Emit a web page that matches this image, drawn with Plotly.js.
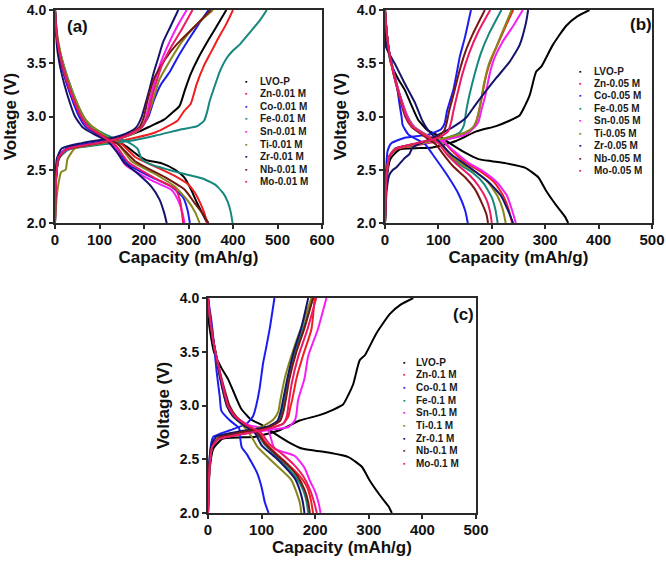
<!DOCTYPE html>
<html><head><meta charset="utf-8">
<script src="https://cdn.plot.ly/plotly-3.0.1.min.js"></script>
<style>html,body{margin:0;padding:0;background:#fff}#chart{width:666px;height:561px}</style>
</head><body><div id="chart"></div>
<script>
// ---------- series names & colours ----------
const seriesKeys = ["LVO","Zn","Co","Fe","Sn","Ti","Zr","Nb","Mo"];
const labelsA = ["LVO-P","Zn-0.01 M","Co-0.01 M","Fe-0.01 M","Sn-0.01 M","Ti-0.01 M","Zr-0.01 M","Nb-0.01 M","Mo-0.01 M"];
const labelsB = ["LVO-P","Zn-0.05 M","Co-0.05 M","Fe-0.05 M","Sn-0.05 M","Ti-0.05 M","Zr-0.05 M","Nb-0.05 M","Mo-0.05 M"];
const labelsC = ["LVO-P","Zn-0.1 M","Co-0.1 M","Fe-0.1 M","Sn-0.1 M","Ti-0.1 M","Zr-0.1 M","Nb-0.1 M","Mo-0.1 M"];
const colors = ["#000000","#f01e1e","#1c1cf0","#16877e","#f51ef5","#86861a","#15146b","#751812","#ec1966"];
const panelTags = ["(a)","(b)","(c)"];
const xTicksA = [0,100,200,300,400,500,600];
const xTicksBC = [0,100,200,300,400,500];
const yTicks = [2.0,2.5,3.0,3.5,4.0];

// ---------- panel (a): [capacity mAh/g, voltage V] ----------
const aChg_LVO = [[0,2.0],[2,2.4],[8,2.6],[20,2.68],[40,2.71],[100,2.75],[150,2.8],[190,2.86],[215,2.91],[245,2.97],[262,3.03],[280,3.1],[292,3.25],[305,3.4],[322,3.55],[345,3.72],[365,3.86],[385,4.0]];
const aChg_Zn  = [[0,2.0],[2,2.4],[8,2.6],[20,2.67],[50,2.71],[120,2.75],[180,2.8],[225,2.85],[250,2.9],[275,2.96],[290,3.05],[305,3.12],[318,3.3],[335,3.48],[350,3.6],[365,3.72],[385,3.87],[400,4.0]];
const aChg_Co  = [[0,2.0],[2,2.45],[8,2.63],[30,2.71],[110,2.77],[170,2.84],[195,2.9],[210,3.0],[222,3.15],[238,3.3],[258,3.42],[275,3.55],[300,3.72],[325,3.88],[345,4.0]];
const aChg_Fe  = [[0,2.0],[2,2.4],[8,2.6],[30,2.69],[75,2.72],[165,2.77],[225,2.82],[285,2.88],[320,2.91],[335,2.96],[341,3.03],[348,3.15],[356,3.25],[370,3.42],[386,3.55],[400,3.62],[416,3.68],[440,3.8],[460,3.9],[476,4.0]];
const aChg_Sn  = [[0,2.0],[2,2.4],[6,2.6],[20,2.68],[100,2.75],[150,2.8],[180,2.85],[195,2.9],[205,3.0],[213,3.15],[222,3.3],[237,3.5],[255,3.68],[275,3.85],[296,4.0]];
const aChg_Ti  = [[0,2.0],[4,2.25],[10,2.42],[14,2.48],[24,2.5],[28,2.6],[45,2.7],[120,2.76],[175,2.84],[195,2.9],[208,3.0],[220,3.15],[235,3.35],[255,3.5],[285,3.7],[315,3.85],[355,4.0]];
const aChg_Zr  = [[0,2.0],[1,2.4],[4,2.6],[15,2.7],[60,2.75],[130,2.8],[165,2.85],[183,2.9],[195,3.0],[202,3.1],[212,3.25],[221,3.4],[232,3.55],[243,3.7],[260,3.85],[277,4.0]];
const aChg_Nb  = [[0,2.0],[2,2.4],[8,2.6],[25,2.69],[110,2.76],[165,2.83],[190,2.9],[200,3.0],[208,3.15],[222,3.35],[236,3.46],[258,3.6],[281,3.71],[315,3.85],[350,4.0]];
const aChg_Mo  = [[0,2.0],[3,2.45],[8,2.62],[30,2.7],[110,2.76],[150,2.8],[180,2.86],[195,2.9],[208,3.0],[216,3.15],[226,3.3],[242,3.5],[262,3.66],[285,3.82],[309,4.0]];

const aDis_LVO = [[0,4.0],[3,3.8],[10,3.6],[22,3.4],[38,3.2],[58,3.0],[75,2.9],[100,2.84],[130,2.79],[160,2.72],[185,2.64],[205,2.59],[240,2.56],[270,2.5],[290,2.43],[305,2.32],[318,2.2],[330,2.1],[342,2.0]];
const aDis_Zn  = [[0,4.0],[3,3.8],[9,3.6],[20,3.4],[36,3.2],[56,3.0],[72,2.9],[100,2.83],[150,2.74],[180,2.62],[225,2.53],[270,2.44],[300,2.36],[315,2.28],[325,2.2],[335,2.1],[342,2.0]];
const aDis_Co  = [[0,4.0],[3,3.8],[9,3.6],[20,3.4],[35,3.2],[54,3.0],[70,2.9],[100,2.82],[135,2.71],[165,2.55],[217,2.43],[262,2.34],[288,2.24],[298,2.12],[303,2.0]];
const aDis_Fe  = [[0,4.0],[5,3.75],[12,3.6],[22,3.45],[38,3.25],[58,3.05],[75,2.93],[100,2.86],[130,2.8],[160,2.77],[185,2.7],[195,2.6],[215,2.55],[255,2.5],[300,2.45],[330,2.42],[360,2.36],[378,2.28],[388,2.2],[395,2.1],[399,2.0]];
const aDis_Sn  = [[0,4.0],[3,3.8],[10,3.6],[22,3.4],[38,3.2],[58,3.0],[74,2.9],[100,2.83],[135,2.71],[157,2.55],[217,2.4],[262,2.31],[277,2.21],[286,2.1],[291,2.0]];
const aDis_Ti  = [[0,4.0],[4,3.8],[12,3.6],[25,3.4],[42,3.2],[64,3.0],[80,2.92],[105,2.84],[142,2.74],[172,2.58],[225,2.46],[270,2.34],[300,2.2],[315,2.1],[325,2.0]];
const aDis_Zr  = [[0,4.0],[2,3.8],[6,3.6],[15,3.4],[28,3.2],[45,3.0],[62,2.9],[85,2.84],[120,2.76],[140,2.66],[155,2.57],[187,2.46],[217,2.34],[235,2.22],[245,2.1],[251,2.0]];
const aDis_Nb  = [[0,4.0],[3,3.8],[10,3.6],[22,3.4],[38,3.2],[58,3.0],[76,2.9],[105,2.82],[142,2.74],[180,2.58],[247,2.43],[292,2.31],[315,2.18],[330,2.1],[345,2.0]];
const aDis_Mo  = [[0,4.0],[3,3.8],[10,3.6],[22,3.4],[38,3.2],[59,3.0],[76,2.9],[102,2.83],[138,2.72],[165,2.57],[225,2.42],[270,2.32],[281,2.21],[285,2.1],[288,2.0]];

// ---------- pristine LVO-P (panels b and c) ----------
const bcChg_LVO = [[0,2.0],[3,2.4],[10,2.6],[27,2.69],[89,2.71],[133,2.77],[171,2.86],[208,2.91],[233,2.96],[252,3.01],[262,3.1],[271,3.2],[283,3.42],[293,3.47],[314,3.67],[339,3.85],[360,3.94],[383,4.0]];
const bcDis_LVO = [[0,4.0],[2,3.76],[11,3.5],[25,3.35],[37,3.25],[50,3.1],[62,2.97],[80,2.87],[100,2.82],[121,2.75],[150,2.66],[175,2.6],[200,2.58],[227,2.56],[262,2.52],[287,2.43],[302,2.3],[320,2.17],[337,2.06],[343,2.0]];

// ---------- panel (b) ----------
const bChg_Zn = [[0,2.0],[3,2.45],[8,2.62],[20,2.69],[60,2.73],[110,2.78],[150,2.83],[163,2.88],[170,2.94],[176,3.05],[182,3.2],[190,3.4],[200,3.55],[213,3.7],[228,3.87],[240,4.0]];
const bChg_Co = [[0,2.0],[2,2.5],[5,2.68],[12,2.75],[37,2.8],[81,2.83],[105,2.88],[112,2.94],[116,3.05],[122,3.15],[128,3.25],[134,3.4],[140,3.56],[150,3.75],[161,4.0]];
const bChg_Fe = [[0,2.0],[3,2.45],[8,2.62],[20,2.7],[60,2.74],[110,2.79],[140,2.85],[148,2.92],[152,3.05],[158,3.2],[168,3.4],[180,3.6],[195,3.78],[218,4.0]];
const bChg_Sn = [[0,2.0],[3,2.45],[8,2.63],[20,2.7],[60,2.74],[110,2.78],[150,2.83],[168,2.9],[175,2.95],[180,3.05],[188,3.2],[196,3.4],[205,3.55],[220,3.7],[240,3.85],[258,4.0]];
const bChg_Ti = [[0,2.0],[3,2.45],[8,2.62],[20,2.7],[60,2.74],[115,2.8],[150,2.85],[165,2.9],[172,2.97],[178,3.1],[185,3.3],[195,3.5],[208,3.65],[222,3.82],[237,4.0]];
const bChg_Zr = [[0,2.0],[3,2.3],[8,2.45],[15,2.5],[21,2.52],[35,2.6],[46,2.65],[52,2.71],[89,2.8],[127,2.9],[152,2.99],[168,3.1],[183,3.2],[208,3.36],[233,3.51],[252,3.67],[264,3.88],[268,4.0]];
const bChg_Nb = [[0,2.0],[3,2.45],[8,2.62],[20,2.7],[60,2.75],[95,2.8],[110,2.86],[115,2.93],[120,3.05],[128,3.2],[138,3.4],[150,3.6],[165,3.78],[187,4.0]];
const bChg_Mo = [[0,2.0],[3,2.45],[8,2.62],[20,2.7],[60,2.75],[100,2.8],[118,2.86],[124,2.95],[128,3.05],[135,3.2],[145,3.4],[158,3.6],[175,3.8],[197,4.0]];

const bDis_Zn = [[0,4.0],[3,3.8],[8,3.6],[17,3.4],[28,3.2],[42,3.0],[55,2.9],[80,2.82],[110,2.76],[125,2.68],[150,2.57],[180,2.48],[205,2.38],[222,2.25],[232,2.12],[238,2.0]];
const bDis_Co = [[0,4.0],[3,3.8],[8,3.6],[15,3.45],[22,3.3],[27,3.12],[31,3.0],[33,2.92],[44,2.83],[75,2.74],[94,2.61],[119,2.43],[137,2.28],[150,2.12],[155,2.0]];
const bDis_Fe = [[0,4.0],[3,3.8],[8,3.6],[17,3.4],[28,3.2],[42,3.0],[55,2.9],[80,2.82],[105,2.75],[120,2.65],[140,2.55],[165,2.47],[185,2.37],[200,2.24],[207,2.12],[211,2.0]];
const bDis_Sn = [[0,4.0],[3,3.8],[8,3.6],[17,3.4],[28,3.2],[42,3.0],[55,2.9],[80,2.82],[110,2.76],[128,2.68],[155,2.57],[185,2.48],[210,2.38],[228,2.26],[238,2.12],[245,2.0]];
const bDis_Ti = [[0,4.0],[3,3.8],[8,3.6],[16,3.4],[27,3.2],[40,3.0],[53,2.9],[78,2.82],[105,2.75],[120,2.65],[145,2.55],[172,2.47],[195,2.37],[212,2.24],[221,2.12],[226,2.0]];
const bDis_Zr = [[0,4.0],[1,3.8],[2,3.65],[19,3.49],[37,3.31],[56,3.13],[69,2.97],[81,2.87],[100,2.77],[125,2.64],[162,2.51],[193,2.39],[218,2.25],[232,2.1],[240,2.0]];
const bDis_Nb = [[0,4.0],[3,3.8],[8,3.6],[16,3.4],[26,3.2],[38,3.0],[50,2.9],[72,2.82],[95,2.74],[110,2.64],[128,2.53],[150,2.43],[168,2.32],[182,2.18],[190,2.08],[193,2.0]];
const bDis_Mo = [[0,4.0],[3,3.8],[8,3.6],[16,3.4],[27,3.2],[40,3.0],[52,2.9],[76,2.82],[100,2.75],[115,2.65],[135,2.55],[158,2.45],[175,2.35],[190,2.22],[197,2.1],[200,2.0]];

// ---------- panel (c) ----------
const cChg_Zn = [[0,2.0],[3,2.45],[8,2.62],[20,2.69],[60,2.73],[110,2.78],[140,2.83],[150,2.9],[153,2.97],[157,3.05],[165,3.25],[177,3.46],[193,3.71],[199,4.0]];
const cChg_Co = [[0,2.0],[2,2.4],[6,2.65],[10,2.71],[41,2.77],[72,2.83],[84,2.9],[90,3.0],[96,3.15],[103,3.4],[109,3.55],[115,3.71],[124,4.0]];
const cChg_Fe = [[0,2.0],[3,2.45],[8,2.62],[20,2.7],[60,2.74],[110,2.79],[133,2.86],[138,2.93],[142,3.05],[150,3.25],[162,3.5],[178,3.72],[196,4.0]];
const cChg_Sn = [[0,2.0],[3,2.45],[8,2.62],[20,2.69],[60,2.73],[110,2.77],[150,2.8],[162,2.86],[165,2.92],[168,3.05],[180,3.25],[187,3.46],[205,3.71],[221,4.0]];
const cChg_Ti = [[0,2.0],[3,2.45],[8,2.62],[20,2.7],[60,2.75],[100,2.8],[122,2.87],[131,2.94],[135,3.05],[143,3.25],[162,3.56],[178,3.78],[193,4.0]];
const cChg_Zr = [[0,2.0],[2,2.45],[6,2.62],[15,2.71],[60,2.76],[110,2.8],[130,2.86],[136,2.95],[140,3.05],[148,3.25],[160,3.5],[174,3.72],[187,4.0]];
const cChg_Nb = [[0,2.0],[3,2.45],[8,2.62],[20,2.7],[60,2.75],[110,2.79],[135,2.86],[141,2.95],[145,3.05],[152,3.25],[165,3.5],[180,3.72],[196,4.0]];
const cChg_Mo = [[0,2.0],[3,2.45],[8,2.62],[20,2.69],[60,2.73],[110,2.78],[140,2.83],[147,2.9],[150,3.0],[156,3.2],[168,3.45],[185,3.7],[202,4.0]];

const cDis_Zn = [[0,4.0],[4,3.8],[10,3.6],[18,3.4],[26,3.2],[36,3.0],[48,2.9],[70,2.82],[95,2.74],[110,2.64],[130,2.54],[150,2.45],[170,2.35],[185,2.24],[192,2.12],[196,2.0]];
const cDis_Co = [[0,4.0],[6,3.8],[10,3.63],[16,3.32],[22,3.08],[25,2.95],[41,2.86],[58,2.79],[60,2.7],[63,2.61],[72,2.55],[91,2.38],[100,2.24],[106,2.1],[113,2.0]];
const cDis_Fe = [[0,4.0],[4,3.8],[10,3.6],[18,3.4],[26,3.2],[36,3.0],[48,2.9],[68,2.82],[92,2.74],[105,2.64],[125,2.54],[145,2.44],[163,2.34],[177,2.22],[184,2.1],[187,2.0]];
const cDis_Sn = [[0,4.0],[4,3.8],[10,3.6],[18,3.4],[27,3.2],[37,3.0],[50,2.9],[75,2.82],[112,2.77],[124,2.6],[162,2.53],[180,2.42],[190,2.3],[199,2.21],[206,2.1],[210,2.0]];
const cDis_Ti = [[0,4.0],[4,3.8],[10,3.6],[17,3.4],[25,3.2],[35,3.0],[46,2.9],[64,2.82],[80,2.72],[93,2.61],[124,2.46],[155,2.31],[168,2.15],[172,2.08],[174,2.0]];
const cDis_Zr = [[0,4.0],[4,3.8],[10,3.6],[17,3.4],[25,3.2],[35,3.0],[47,2.9],[66,2.82],[88,2.74],[100,2.63],[125,2.52],[145,2.42],[162,2.32],[172,2.2],[177,2.1],[180,2.0]];
const cDis_Nb = [[0,4.0],[4,3.8],[10,3.6],[18,3.4],[28,3.2],[40,3.0],[52,2.9],[70,2.82],[93,2.74],[107,2.64],[128,2.54],[148,2.45],[166,2.35],[180,2.22],[187,2.1],[190,2.0]];
const cDis_Mo = [[0,4.0],[4,3.8],[10,3.6],[18,3.4],[27,3.2],[37,3.0],[50,2.9],[72,2.82],[98,2.75],[115,2.64],[138,2.55],[160,2.45],[178,2.34],[190,2.22],[198,2.1],[203,2.0]];

// ---------- assemble ----------
const panelChg = [
  [aChg_LVO,aChg_Zn,aChg_Co,aChg_Fe,aChg_Sn,aChg_Ti,aChg_Zr,aChg_Nb,aChg_Mo],
  [bcChg_LVO,bChg_Zn,bChg_Co,bChg_Fe,bChg_Sn,bChg_Ti,bChg_Zr,bChg_Nb,bChg_Mo],
  [bcChg_LVO,cChg_Zn,cChg_Co,cChg_Fe,cChg_Sn,cChg_Ti,cChg_Zr,cChg_Nb,cChg_Mo]];
const panelDis = [
  [aDis_LVO,aDis_Zn,aDis_Co,aDis_Fe,aDis_Sn,aDis_Ti,aDis_Zr,aDis_Nb,aDis_Mo],
  [bcDis_LVO,bDis_Zn,bDis_Co,bDis_Fe,bDis_Sn,bDis_Ti,bDis_Zr,bDis_Nb,bDis_Mo],
  [bcDis_LVO,cDis_Zn,cDis_Co,cDis_Fe,cDis_Sn,cDis_Ti,cDis_Zr,cDis_Nb,cDis_Mo]];
const panelLabels = [labelsA,labelsB,labelsC];

const W = 666, H = 561;
const fx = p => p / W, fy = p => 1 - p / H;
// pixel boxes of the three plot areas [left,right,top,bottom]
const boxes = [[55,322,10,223],[385,652,10,223],[208,476,298,513]];
const legendPos = [ {mx:246, tx:258, y0:81, dy:12.6}, {mx:580, tx:592, y0:71, dy:12.45}, {mx:404, tx:414, y0:362, dy:12.7} ];
const tagPos = [[77,26],[641,25],[463,314]];

const FONT = "Liberation Sans, Arial, Helvetica, sans-serif";
const traces = [];
const annotations = [];
const layout = {
  width: W, height: H, margin: {l:0,r:0,t:0,b:0},
  paper_bgcolor: "#fff", plot_bgcolor: "#fff", showlegend: false,
  font: {family: FONT, color: "#111"}
};

for (let p = 0; p < 3; p++) {
  const sfx = p === 0 ? "" : String(p + 1);
  const xa = "x" + sfx, ya = "y" + sfx;
  for (let i = 0; i < seriesKeys.length; i++) {
    const chg = panelChg[p][i], dis = panelDis[p][i];
    const xs = chg.map(d => d[0]).concat([null], dis.map(d => d[0]));
    const ys = chg.map(d => d[1]).concat([null], dis.map(d => d[1]));
    traces.push({
      type: "scatter", mode: "lines", x: xs, y: ys, xaxis: xa, yaxis: ya,
      name: panelLabels[p][i], connectgaps: false,
      line: {color: colors[i], width: 2, shape: "spline", smoothing: 0.5},
      hoverinfo: "skip"
    });
  }
  const b = boxes[p];
  const xTicks = p === 0 ? xTicksA : xTicksBC;
  layout["xaxis" + sfx] = {
    domain: [fx(b[0]), fx(b[1])], anchor: ya, range: [0, xTicks[xTicks.length - 1]],
    tickvals: xTicks, ticktext: xTicks.map(String),
    showline: true, mirror: true, linecolor: "#2a2a2a", linewidth: 2,
    ticks: "outside", ticklen: 4, tickwidth: 2, tickcolor: "#2a2a2a",
    showgrid: false, zeroline: false, ticklabeloverflow: "allow", ticklabelstandoff: -2,
    tickfont: {family: FONT, size: 15, weight: "bold", color: "#111"},
    title: {text: "Capacity (mAh/g)", standoff: 0, font: {family: FONT, size: 17, weight: "bold", color: "#111"}}
  };
  layout["yaxis" + sfx] = {
    domain: [fy(b[3]), fy(b[2])], anchor: xa, range: [2, 4],
    tickvals: yTicks, ticktext: yTicks.map(v => v.toFixed(1)),
    showline: true, mirror: true, linecolor: "#2a2a2a", linewidth: 2,
    ticks: "outside", ticklen: 4, tickwidth: 2, tickcolor: "#2a2a2a",
    showgrid: false, zeroline: false, ticklabeloverflow: "allow",
    tickfont: {family: FONT, size: 14, weight: "bold", color: "#111"},
    title: {text: "Voltage (V)", standoff: 6, font: {family: FONT, size: 17, weight: "bold", color: "#111"}}
  };
  // legend (tight spacing like the source figure)
  const lp = legendPos[p];
  for (let i = 0; i < seriesKeys.length; i++) {
    const yy = lp.y0 + i * lp.dy;
    annotations.push({xref:"paper", yref:"paper", x: fx(lp.mx), y: fy(yy), xanchor:"center", yanchor:"middle",
      text: "\u25AA", showarrow:false, font:{family: FONT, size: 7, color: colors[i]}});
    annotations.push({xref:"paper", yref:"paper", x: fx(lp.tx), y: fy(yy), xanchor:"left", yanchor:"middle",
      text: panelLabels[p][i], showarrow:false, font:{family: FONT, size: 10, weight:"bold", color:"#1a1a1a"}});
  }
  annotations.push({xref:"paper", yref:"paper", x: fx(tagPos[p][0]), y: fy(tagPos[p][1]), xanchor:"center", yanchor:"middle",
    text: panelTags[p], showarrow:false, font:{family: FONT, size: 17, weight:"bold", color:"#111"}});
}
layout.annotations = annotations;

Plotly.newPlot("chart", traces, layout, {staticPlot: true, displayModeBar: false});
</script></body></html>
